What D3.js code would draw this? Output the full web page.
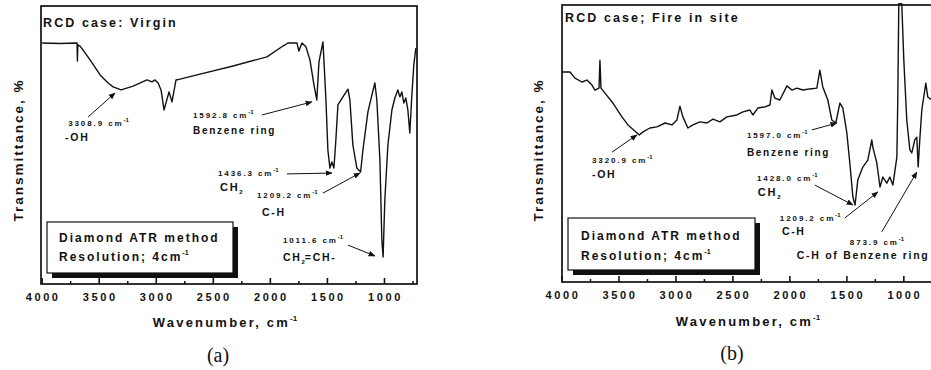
<!DOCTYPE html>
<html><head><meta charset="utf-8">
<script src="https://cdn.jsdelivr.net/npm/d3@7"></script>
<style>
body{margin:0;background:#fff;}
svg text{font-family:"Liberation Sans",Arial,sans-serif;font-weight:bold;fill:#111;}
</style></head>
<body><svg id="c" width="931" height="370"></svg>
<script>
// ---- data ----
const waveA = [4000,3842,3698,3694,3691,3687,3667,3580,3492,3422,3378,3308,3203,3081,3037,3011,2984,2958,2932,2888,2862,2827,2792,2616,2327,2030,1890,1846,1767,1750,1723,1688,1653,1618,1593,1574,1539,1513,1496,1478,1461,1443,1426,1408,1364,1320,1303,1277,1242,1209,1189,1145,1110,1084,1067,1040,1023,1012,997,970,935,909,883,865,848,830,813,795,778,760,743,725];
const transA = [86.7,86.5,86.7,86.7,80.2,86.0,85.6,80.6,75.2,72.3,70.9,69.8,71.2,73.4,72.7,73.4,72.3,69.8,62.6,69.1,65.5,73.4,73.7,75.5,78.4,81.7,85.6,86.7,86.7,83.8,86.7,85.3,80.6,71.6,66.2,79.9,87.1,66.2,48.2,41.7,43.9,41.7,51.8,64.4,67.3,70.1,66.2,50.0,41.7,40.3,48.2,61.9,68.0,72.3,66.2,44.6,15.8,9.7,30.2,50.0,62.6,66.9,69.8,67.3,69.1,65.1,66.9,62.6,54.3,68.0,78.8,84.9];

const waveB = [4000,3930,3886,3825,3781,3737,3711,3675,3667,3658,3623,3553,3474,3421,3321,3289,3228,3167,3096,3035,2991,2965,2939,2895,2851,2789,2728,2675,2614,2553,2465,2412,2351,2325,2281,2219,2175,2158,2132,2088,2026,1982,1939,1886,1825,1763,1737,1711,1667,1632,1597,1561,1535,1500,1474,1447,1428,1404,1360,1316,1281,1272,1237,1209,1184,1149,1123,1096,1061,1053,1044,1018,1000,974,947,930,904,886,874,860,842,807,790,754];
const transB = [75.8,75.8,73.6,72.2,72.9,71.1,69.3,70.0,80.1,70.0,68.2,64.6,59.6,56.7,53.1,54.2,55.6,56.0,57.4,56.7,58.5,63.5,59.6,55.6,56.7,57.8,57.4,58.8,57.8,59.6,60.3,61.4,62.1,60.3,62.8,63.2,63.9,69.3,66.4,65.7,70.8,69.3,70.0,69.3,69.7,70.0,76.5,70.4,65.7,58.5,57.4,64.6,62.8,53.8,43.0,30.7,27.8,36.8,41.5,44.0,51.3,48.7,43.0,34.3,37.9,35.7,37.9,35.0,45.1,65.7,100.5,100.5,80.1,58.5,47.7,46.6,51.3,52.3,41.5,51.3,62.1,71.8,66.8,65.7];

const majorTicks = [4000,3500,3000,2500,2000,1500,1000];
const tickLabels = ["4000","3500","3000","2500","2000","1500","1000"];
const minorTicks = [3750,3250,2750,2250,1750,1250,750];

const titles = ["RCD case: Virgin","RCD case; Fire in site"];
const captions = ["(a)","(b)"];
const boxLines = [["Diamond ATR method","Resolution; 4cm"],["Diamond ATR method","Resolution; 4cm"]];

// annotations: label position (wavenumber, transmittance), arrow from/to in data units
const annotA = [
  {t1:"3308.9 cm",t2:"-OH",w1:3772,v1:56.8,w2:3799,v2:51.4,s2:10.5,aw0:3597,av0:60.1,aw1:3361,av1:68.7},
  {t1:"1592.8 cm",t2:"Benzene ring",w1:2678,v1:59.7,w2:2678,v2:54.0,s2:10,aw0:2074,av0:60.8,aw1:1636,av1:65.5},
  {t1:"1436.3 cm",t2:"CH",sub:"2",w1:2459,v1:38.8,w2:2441,v2:33.5,s2:11,aw0:1855,av0:39.6,aw1:1461,av1:39.9},
  {t1:"1209.2 cm",t2:"C-H",w1:2117,v1:30.9,w2:2073,v2:24.5,s2:10.5,aw0:1539,av0:32.7,aw1:1215,av1:39.9},
  {t1:"1011.6 cm",t2:"CH",sub:"2",t3:"=CH-",w1:1890,v1:14.7,w2:1890,v2:8.3,s2:10.5,aw0:1320,av0:14.0,aw1:1084,av1:10.1}
];
const annotB = [
  {t1:"3320.9 cm",t2:"-OH",w1:3737,v1:43.0,w2:3737,v2:37.5,s2:10.5,aw0:3561,av0:46.9,aw1:3342,av1:53.1},
  {t1:"1597.0 cm",t2:"Benzene ring",w1:2377,v1:52.0,w2:2377,v2:45.5,s2:10,aw0:1807,av0:54.9,aw1:1588,av1:57.4},
  {t1:"1428.0 cm",t2:"CH",sub:"2",w1:2289,v1:36.5,w2:2281,v2:31.0,s2:11,aw0:1781,av0:35.0,aw1:1447,av1:27.8},
  {t1:"1209.2 cm",t2:"C-H",w1:2088,v1:22.0,w2:2070,v2:17.0,s2:10.5,aw0:1518,av0:23.1,aw1:1228,av1:32.5},
  {t1:"873.9 cm",t2:"C-H of Benzene ring",w1:1474,v1:13.4,w2:1939,v2:8.3,s2:10.5,aw0:1193,av0:18.1,aw1:886,av1:39.7}
];

// ---- drawing ----
const svg = d3.select("#c");
svg.append("defs").append("marker").attr("id","ah").attr("viewBox","0 0 10 10")
  .attr("refX",9).attr("refY",5).attr("markerWidth",7).attr("markerHeight",7)
  .attr("markerUnits","userSpaceOnUse").attr("orient","auto")
  .append("path").attr("d","M0,1 L10,5 L0,9 Z").attr("fill","#111");

const panels = [
  {waves:waveA, trans:transA, annot:annotA, x0:41, x1:417, y0:6, y1:284, dom:[4010,715],
   title:titles[0], tx:43, ty:27, tickY:301, xlabX:225, xlabY:327, capX:218, capY:362, ylabX:18,
   box:{x:47,y:222,w:186,h:51,tx:59,l1:242,l2:261}, cap:captions[0], lines:boxLines[0]},
  {waves:waveB, trans:transB, annot:annotB, x0:562, x1:938, y0:5, y1:282, dom:[4000,700],
   title:titles[1], tx:565, ty:22, tickY:299, xlabX:748, xlabY:326, capX:732, capY:360, ylabX:538,
   box:{x:568,y:218,w:187,h:52,tx:581,l1:240,l2:260}, cap:captions[1], lines:boxLines[1]}
];

panels.forEach(p => {
  const g = svg.append("g");
  const x = d3.scaleLinear().domain(p.dom).range([p.x0,p.x1]);
  const y = d3.scaleLinear().domain([0,100]).range([p.y1,p.y0]);

  // spectrum
  const pts = p.waves.map((w,i)=>[w,p.trans[i]]);
  g.append("path").datum(pts)
    .attr("d", d3.line().x(d=>x(d[0])).y(d=>y(d[1])).curve(d3.curveLinear))
    .attr("fill","none").attr("stroke","#111").attr("stroke-width",1.4).attr("stroke-linejoin","round");

  // frame
  g.append("rect").attr("x",p.x0).attr("y",p.y0).attr("width",p.x1-p.x0).attr("height",p.y1-p.y0)
    .attr("fill","none").attr("stroke","#111").attr("stroke-width",1.7);

  // ticks (inward)
  g.selectAll(".maj").data(majorTicks).join("line")
    .attr("x1",d=>x(d)).attr("x2",d=>x(d)).attr("y1",p.y1).attr("y2",p.y1-6)
    .attr("stroke","#111").attr("stroke-width",1.6);
  g.selectAll(".min").data(minorTicks).join("line")
    .attr("x1",d=>x(d)).attr("x2",d=>x(d)).attr("y1",p.y1).attr("y2",p.y1-3)
    .attr("stroke","#111").attr("stroke-width",1.5);
  g.selectAll(".tl").data(majorTicks).join("text")
    .attr("x",d=>x(d)+1).attr("y",p.tickY).attr("text-anchor","middle")
    .attr("font-size",11).attr("letter-spacing",2.6).text((d,i)=>tickLabels[i]);

  // axis titles
  const xl = g.append("text").attr("x",p.xlabX).attr("y",p.xlabY).attr("text-anchor","middle")
    .attr("font-size",13).attr("letter-spacing",2.2);
  xl.append("tspan").text("Wavenumber, cm");
  xl.append("tspan").attr("dy",-6).attr("font-size",8).attr("letter-spacing",0).text("-1");
  g.append("text").attr("transform",`translate(${p.ylabX},150) rotate(-90)`)
    .attr("text-anchor","middle").attr("dominant-baseline","central")
    .attr("font-size",13.5).attr("letter-spacing",2).text("Transmittance, %");

  // caption
  g.append("text").attr("x",p.capX).attr("y",p.capY).attr("text-anchor","middle")
    .style("font-family","'Liberation Serif','Times New Roman',serif").style("font-weight","normal")
    .attr("font-size",20).text(p.cap);

  // title
  g.append("text").attr("x",p.tx).attr("y",p.ty).attr("font-size",12.5).attr("letter-spacing",2.1).text(p.title);

  // box
  const b = p.box;
  g.append("rect").attr("x",b.x+5).attr("y",b.y+5).attr("width",b.w).attr("height",b.h).attr("fill","#111");
  g.append("rect").attr("x",b.x).attr("y",b.y).attr("width",b.w).attr("height",b.h)
    .attr("fill","#fff").attr("stroke","#111").attr("stroke-width",1.2);
  g.append("text").attr("x",b.tx).attr("y",b.l1).attr("font-size",12).attr("letter-spacing",2).text(p.lines[0]);
  const l2 = g.append("text").attr("x",b.tx).attr("y",b.l2).attr("font-size",12).attr("letter-spacing",2);
  l2.append("tspan").text(p.lines[1]);
  l2.append("tspan").attr("dy",-6).attr("font-size",7).attr("letter-spacing",0).text("-1");

  // annotations
  p.annot.forEach(a => {
    const t1 = g.append("text").attr("x",x(a.w1)).attr("y",y(a.v1)).attr("font-size",8).attr("letter-spacing",1.9);
    t1.append("tspan").text(a.t1);
    t1.append("tspan").attr("dy",-4).attr("font-size",6).attr("letter-spacing",0).text("-1");
    const t2 = g.append("text").attr("x",x(a.w2)).attr("y",y(a.v2)).attr("font-size",a.s2).attr("letter-spacing",1.7);
    t2.append("tspan").text(a.t2);
    if (a.sub){
      t2.append("tspan").attr("dy",3).attr("font-size",6).attr("letter-spacing",0).text(a.sub);
      if (a.t3) t2.append("tspan").attr("dy",-3).attr("font-size",a.s2).attr("letter-spacing",1.7).text(a.t3);
    }
    g.append("line").attr("x1",x(a.aw0)).attr("y1",y(a.av0)).attr("x2",x(a.aw1)).attr("y2",y(a.av1))
      .attr("stroke","#111").attr("stroke-width",1).attr("marker-end","url(#ah)");
  });
});
</script></body></html>
